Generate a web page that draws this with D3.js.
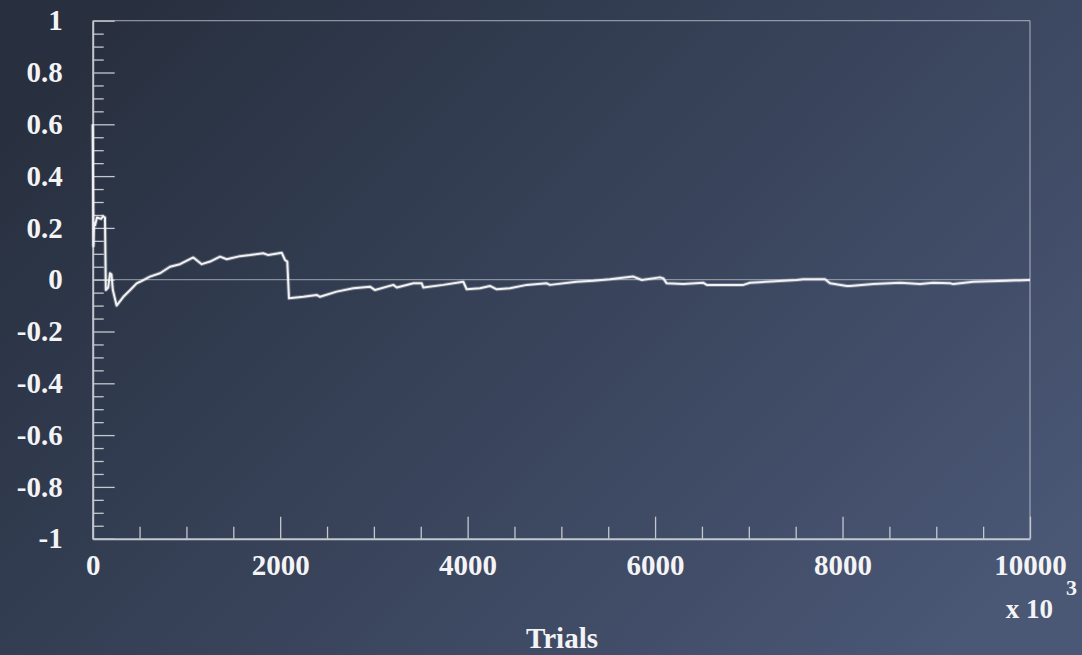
<!DOCTYPE html>
<html>
<head>
<meta charset="utf-8">
<script src="https://cdn.jsdelivr.net/npm/d3@7"></script>
<style>
html,body{margin:0;padding:0;background:#2c3546;}
svg{display:block;}
</style>
</head>
<body>
<svg id="chart" width="1082" height="655"></svg>
<script>
// ---- data (trials in units of 10^3, running value) ----
const trials = [0,8,15,25,45,90,110,131,140,165,185,200,215,255,327,400,469,505,611,718,825,931,1073,1163,1252,1359,1430,1572,1679,1820,1874,2017,2052,2076,2094,2247,2390,2425,2603,2780,2959,3012,3207,3244,3421,3510,3527,3741,3954,3990,4132,4239,4310,4452,4631,4844,4879,5164,5341,5519,5768,5858,6052,6088,6124,6301,6515,6551,6942,7013,7511,7582,7813,7867,8045,8080,8329,8614,8827,8969,9147,9183,9396,9752,9983,10000];
const values = [0.6,0.13,0.22,0.21,0.24,0.235,0.245,0.24,-0.04,-0.03,0.025,0.02,-0.04,-0.1,-0.066,-0.04,-0.014,-0.008,0.012,0.025,0.05,0.06,0.086,0.06,0.07,0.089,0.079,0.091,0.095,0.102,0.095,0.104,0.076,0.07,-0.072,-0.066,-0.059,-0.066,-0.046,-0.033,-0.027,-0.04,-0.02,-0.03,-0.014,-0.014,-0.03,-0.02,-0.008,-0.037,-0.033,-0.024,-0.037,-0.033,-0.02,-0.014,-0.02,-0.008,-0.004,0.0015,0.012,-0.001,0.009,0.005,-0.014,-0.017,-0.012,-0.02,-0.02,-0.012,-0.001,0.0015,0.0015,-0.014,-0.024,-0.024,-0.017,-0.012,-0.017,-0.012,-0.014,-0.017,-0.008,-0.004,-0.001,-0.001];
const xTickValues = [0,2000,4000,6000,8000,10000];
const xMinorTickValues = [500,1000,1500,2500,3000,3500,4500,5000,5500,6500,7000,7500,8500,9000,9500];
const yTickValues = [1,0.8,0.6,0.4,0.2,0,-0.2,-0.4,-0.6,-0.8,-1];
const yTickLabels = ["1","0.8","0.6","0.4","0.2","0","-0.2","-0.4","-0.6","-0.8","-1"];
const yMinorTickValues = d3.range(-20,21).filter(i => i % 4 !== 0).map(i => i*0.05);
const xAxisTitle = "Trials";
const xMultiplier = "x 10";
const xMultiplierExp = "3";

// ---- layout ----
const W = 1082, H = 655;
const L = 92.7, R = 1030, T = 20.7, B = 538.7;
const svg = d3.select("#chart");

const defs = svg.append("defs");
const grad = defs.append("linearGradient").attr("id","bg")
  .attr("x1","0").attr("y1","0.2").attr("x2","1").attr("y2","0.8");
grad.append("stop").attr("offset","0").attr("stop-color","#28303f");
grad.append("stop").attr("offset","0.5").attr("stop-color","#38435a");
grad.append("stop").attr("offset","1").attr("stop-color","#4a5775");
svg.append("rect").attr("width",W).attr("height",H).attr("fill","url(#bg)");

const x = d3.scaleLinear().domain([0,10000]).range([L,R]);
const y = d3.scaleLinear().domain([-1,1]).range([B,T]);

const font = "'Liberation Serif','Times New Roman',serif";
const axisCol = "#c3c7cf";
const dimCol = "rgba(220,224,232,0.55)";

// box top/right
svg.append("line").attr("x1",L).attr("x2",R).attr("y1",T).attr("y2",T)
  .attr("stroke",dimCol).attr("stroke-width",1.3);
svg.append("line").attr("x1",R).attr("x2",R).attr("y1",T).attr("y2",B)
  .attr("stroke",dimCol).attr("stroke-width",1.3);
// zero line
svg.append("line").attr("x1",L).attr("x2",R).attr("y1",y(0)).attr("y2",y(0))
  .attr("stroke","rgba(220,224,232,0.5)").attr("stroke-width",1.2);

function styleAxis(g){
  g.selectAll("path.domain").attr("stroke",axisCol).attr("stroke-width",2);
  g.selectAll(".tick line").attr("stroke",axisCol).attr("stroke-width",1.3);
  g.selectAll(".tick text").attr("fill","#f4f4f6")
    .style("font-family",font).style("font-weight","bold").style("font-size","29px");
}

// y minor
const gyMinor = svg.append("g").attr("transform",`translate(${L},0)`)
  .call(d3.axisLeft(y).tickValues(yMinorTickValues).tickSize(-11).tickSizeOuter(0).tickFormat(""));
styleAxis(gyMinor);
gyMinor.select("path.domain").remove();
// y major
const gy = svg.append("g").attr("transform",`translate(${L},0)`)
  .call(d3.axisLeft(y).tickValues(yTickValues).tickSize(-22).tickSizeOuter(0).tickPadding(30)
    .tickFormat((d,i)=>yTickLabels[i]));
styleAxis(gy);

// x minor
const gxMinor = svg.append("g").attr("transform",`translate(0,${B})`)
  .call(d3.axisBottom(x).tickValues(xMinorTickValues).tickSize(-12).tickSizeOuter(0).tickFormat(""));
styleAxis(gxMinor);
gxMinor.select("path.domain").remove();
// x major
const gx = svg.append("g").attr("transform",`translate(0,${B})`)
  .call(d3.axisBottom(x).tickValues(xTickValues).tickSize(-22).tickSizeOuter(0).tickPadding(16)
    .tickFormat(d3.format("d")));
styleAxis(gx);

// line
const data = trials.map((t,i)=>({t, v: values[i]}));
const line = d3.line().x(d=>x(d.t)).y(d=>y(d.v));
svg.append("path").datum(data).attr("d",line)
  .attr("fill","none").attr("stroke","rgba(255,255,255,0.25)").attr("stroke-width",4)
  .attr("stroke-linejoin","round");
svg.append("path").datum(data).attr("d",line)
  .attr("fill","none").attr("stroke","#f2f2f4").attr("stroke-width",2)
  .attr("stroke-linejoin","round");

// labels
svg.append("text").attr("x",1053).attr("y",618).attr("text-anchor","end")
  .attr("fill","#f4f4f6").style("font-family",font).style("font-weight","bold").style("font-size","27px")
  .text(xMultiplier);
svg.append("text").attr("x",1066).attr("y",595)
  .attr("fill","#f4f4f6").style("font-family",font).style("font-weight","bold").style("font-size","22px")
  .text(xMultiplierExp);
svg.append("text").attr("x",562).attr("y",648).attr("text-anchor","middle")
  .attr("fill","#f4f4f6").style("font-family",font).style("font-weight","bold").style("font-size","29px")
  .text(xAxisTitle);
</script>
</body>
</html>
